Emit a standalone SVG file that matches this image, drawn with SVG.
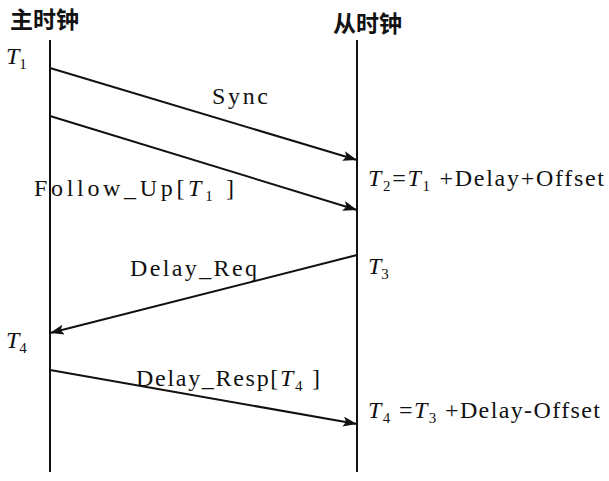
<svg xmlns="http://www.w3.org/2000/svg" width="609" height="481" viewBox="0 0 609 481">
<style>
.t{font-family:"Liberation Serif","Noto Sans CJK SC",serif;font-size:24px;fill:#111}
.c{font-family:"Noto Sans CJK SC",sans-serif;font-size:23px;font-weight:bold;fill:#111}
.i{font-style:italic}
.s{font-size:15px}
.l{stroke:#111;stroke-width:2;fill:none}
</style>
<defs><marker id="a" viewBox="0 0 14 10" refX="14" refY="5" markerWidth="14" markerHeight="10" markerUnits="userSpaceOnUse" orient="auto"><path d="M0,0L14,5L0,10L3,5z" fill="#111"/></marker></defs>
<rect width="609" height="481" fill="#fff"/>
<g id="master"><line class="l" x1="50" y1="40" x2="50" y2="472"/><text class="c" x="10" y="28">主时钟</text></g>
<g id="slave"><line class="l" x1="357" y1="40" x2="357" y2="472"/><text class="c" x="333" y="32">从时钟</text></g>
<g id="connectors">
<line class="l" x1="50" y1="68" x2="357" y2="160" marker-end="url(#a)"/>
<line class="l" x1="50" y1="116" x2="357" y2="210" marker-end="url(#a)"/>
<line class="l" x1="357" y1="255" x2="50" y2="333" marker-end="url(#a)"/>
<line class="l" x1="50" y1="370" x2="357" y2="424" marker-end="url(#a)"/>
</g>
<g id="labels">
<text class="t" x="6" y="64"><tspan class="i">T</tspan><tspan class="s" dy="5">1</tspan></text>
<text class="t" x="212" y="104" textLength="56">Sync</text>
<text class="t" x="34" y="196" textLength="200">Follow_Up[<tspan class="i">T</tspan><tspan class="s" dy="5">1</tspan><tspan dy="-5"> ]</tspan></text>
<text class="t" x="368" y="186" textLength="236"><tspan class="i">T</tspan><tspan class="s" dy="5">2</tspan><tspan dy="-5">=</tspan><tspan class="i">T</tspan><tspan class="s" dy="5">1</tspan><tspan dy="-5"> +Delay+Offset</tspan></text>
<text class="t" x="130" y="276" textLength="127">Delay_Req</text>
<text class="t" x="368" y="274"><tspan class="i">T</tspan><tspan class="s" dy="5">3</tspan></text>
<text class="t" x="6" y="348"><tspan class="i">T</tspan><tspan class="s" dy="5">4</tspan></text>
<text class="t" x="136" y="386" textLength="184">Delay_Resp[<tspan class="i">T</tspan><tspan class="s" dy="5">4</tspan><tspan dy="-5"> ]</tspan></text>
<text class="t" x="368" y="418" textLength="232"><tspan class="i">T</tspan><tspan class="s" dy="5">4</tspan><tspan dy="-5"> =</tspan><tspan class="i">T</tspan><tspan class="s" dy="5">3</tspan><tspan dy="-5"> +Delay-Offset</tspan></text>
</g>
</svg>
